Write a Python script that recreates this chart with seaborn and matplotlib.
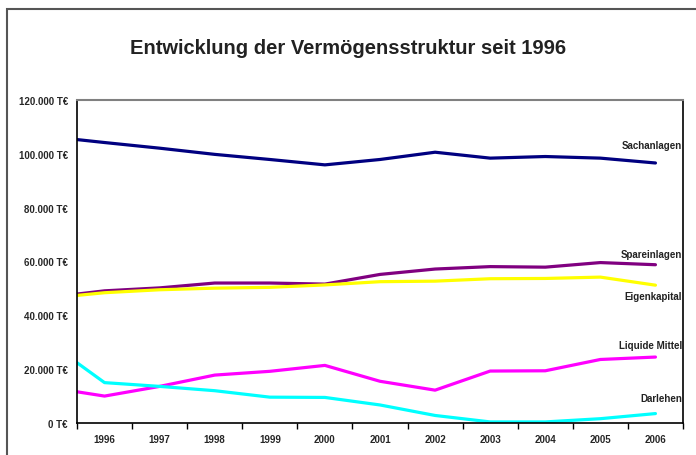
import matplotlib.pyplot as plt
import matplotlib.ticker as mticker
import matplotlib.transforms as mtrans
import pandas as pd
import seaborn as sns
from matplotlib.patches import Rectangle

sns.set_style("white")
plt.rcParams['font.family'] = ['Liberation Sans', 'DejaVu Sans']

# Werte in T€, erster Punkt liegt am linken Rand (Anfangsbestand)
zeitpunkte = [1995.5, 1996, 1997, 1998, 1999, 2000, 2001, 2002, 2003, 2004, 2005, 2006]
jahre = ["1996", "1997", "1998", "1999", "2000", "2001", "2002", "2003", "2004", "2005", "2006"]

sachanlagen = [105300, 104200, 102100, 99800, 97900, 95900, 97900, 100600, 98400, 99000, 98400, 96600]
spareinlagen = [47900, 49100, 50200, 52000, 52000, 51600, 55200, 57200, 58100, 57900, 59600, 58800]
eigenkapital = [47400, 48400, 49500, 50100, 50400, 51300, 52500, 52700, 53600, 53700, 54200, 51200]
liquide_mittel = [11600, 10000, 13600, 17800, 19200, 21400, 15500, 12200, 19300, 19400, 23600, 24500]
darlehen = [22400, 15000, 13600, 12000, 9600, 9500, 6700, 2800, 400, 400, 1600, 3500]

reihen = {
    "Sachanlagen": sachanlagen,
    "Spareinlagen": spareinlagen,
    "Eigenkapital": eigenkapital,
    "Liquide Mittel": liquide_mittel,
    "Darlehen": darlehen,
}
farben = {
    "Sachanlagen": "#000080",
    "Spareinlagen": "#800080",
    "Eigenkapital": "#FFFF00",
    "Liquide Mittel": "#FF00FF",
    "Darlehen": "#00FFFF",
}

df = pd.concat(
    [pd.DataFrame({"jahr": zeitpunkte, "wert": v, "reihe": k}) for k, v in reihen.items()],
    ignore_index=True,
)

fig = plt.figure(figsize=(6.96, 4.56), dpi=100)
ax = fig.add_axes([77 / 696, 1 - 424 / 456, 606 / 696, 323 / 456])

sns.lineplot(data=df, x="jahr", y="wert", hue="reihe", palette=farben,
             linewidth=2.3, legend=False, ax=ax)

ax.set_xlim(1995.5, 2006.5)
ax.set_ylim(0, 120000)
ax.set_xlabel("")
ax.set_ylabel("")

# Kategorieachse: Striche zwischen den Jahren, Beschriftung in der Mitte
ax.set_xticks([int(j) + 0.5 for j in jahre] + [1995.5])
ax.xaxis.set_major_formatter(mticker.NullFormatter())
ax.set_xticks([int(j) for j in jahre], minor=True)
ax.set_xticklabels(jahre, minor=True)
ax.tick_params(axis="x", which="major", direction="out", length=4, width=1, color="black", bottom=True)
ax.tick_params(axis="x", which="minor", length=0, pad=8, labelsize=7)
for lab in ax.get_xticklabels(minor=True):
    lab.set_fontweight("bold")

ax.yaxis.set_major_locator(mticker.MultipleLocator(20000))
ax.yaxis.set_major_formatter(mticker.FuncFormatter(lambda v, p: f"{int(v):,} T€".replace(",", ".")))
ax.tick_params(axis="y", length=0, pad=6.5, labelsize=7)
for lab in ax.get_yticklabels():
    lab.set_fontweight("bold")

for s in ["left", "bottom", "right"]:
    ax.spines[s].set_color("black")
    ax.spines[s].set_linewidth(1.2)
ax.spines["top"].set_color("#808080")
ax.spines["top"].set_linewidth(1.5)

# Reihenbeschriftung am rechten Rand
trans = mtrans.blended_transform_factory(ax.transAxes, ax.transData)
beschriftung_y = {
    "Sachanlagen": 103300,
    "Spareinlagen": 62800,
    "Eigenkapital": 47200,
    "Liquide Mittel": 29000,
    "Darlehen": 9300,
}
for name, yv in beschriftung_y.items():
    ax.text(0.998, yv, name, transform=trans, ha="right", va="center",
            fontsize=7, fontweight="bold", color="#222222")

fig.text(0.5, 1 - 48 / 456, "Entwicklung der Vermögensstruktur seit 1996",
         ha="center", va="center", fontsize=14.5, fontweight="bold", color="#222222")

# Rahmen des Diagrammbereichs
fig.patches.append(Rectangle((7 / 696, -0.05), 1.0, 1 - 10 / 456 + 0.05,
                             transform=fig.transFigure, fill=False,
                             edgecolor="#555555", linewidth=1.5))

fig.savefig("out.png", dpi=100)
